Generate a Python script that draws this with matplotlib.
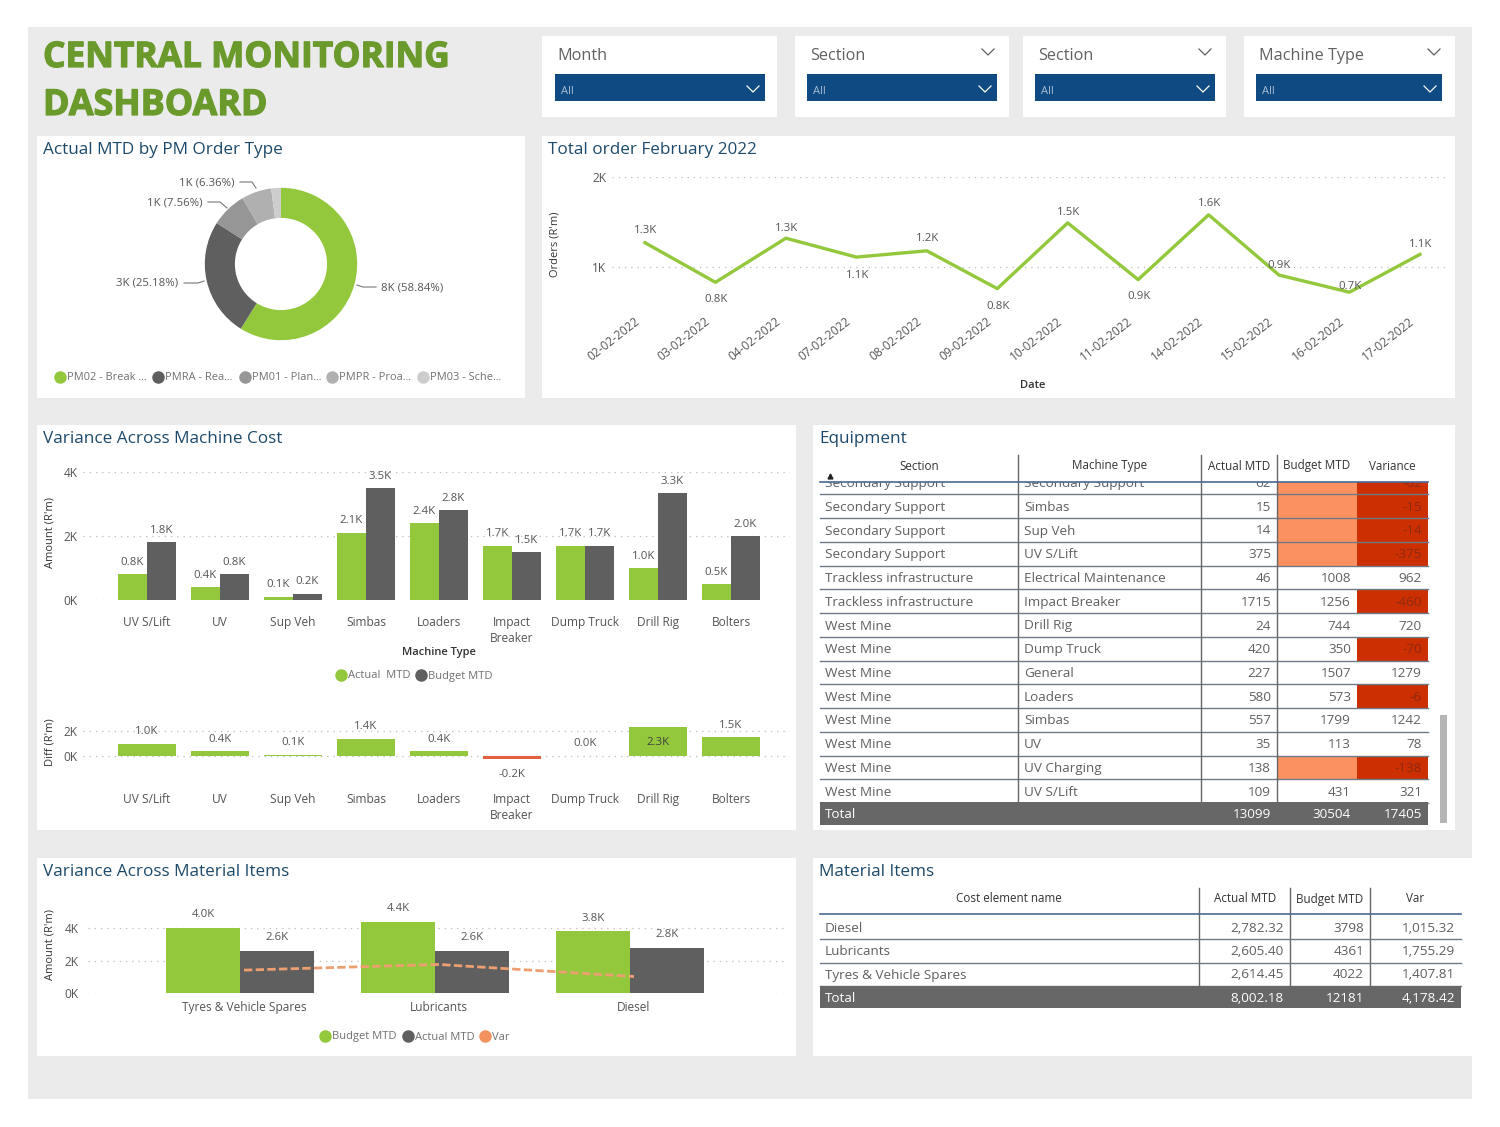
import matplotlib
matplotlib.use("Agg")
import matplotlib.pyplot as plt
from matplotlib.patches import Rectangle
from matplotlib.transforms import ScaledTranslation
import matplotlib.patheffects as pe
import numpy as np

plt.rcParams['font.family'] = ['Open Sans', 'DejaVu Sans']

W, H = 1500, 1127
GREEN = '#93C83C'
DARK = '#5F5F5F'
NAVY = '#1D4A6B'
TXT = '#555555'
ORANGE = '#F2935F'
BODY = 9.7

# ---------- data ----------
pm_labels = ['PM02 - Break ...', 'PMRA - Rea...', 'PM01 - Plan...', 'PMPR - Proa...', 'PM03 - Sche...']
pm_values = [58.84, 25.18, 7.56, 6.36, 2.06]
pm_colors = [GREEN, '#5F5F5F', '#969696', '#B0B0B0', '#CDCDCD']

order_dates = ['02-02-2022', '03-02-2022', '04-02-2022', '07-02-2022', '08-02-2022', '09-02-2022',
               '10-02-2022', '11-02-2022', '14-02-2022', '15-02-2022', '16-02-2022', '17-02-2022']
order_values = [1.27, 0.83, 1.32, 1.11, 1.18, 0.76, 1.49, 0.86, 1.58, 0.91, 0.72, 1.14]

machines = ['UV S/Lift', 'UV', 'Sup Veh', 'Simbas', 'Loaders', 'Impact\nBreaker', 'Dump Truck', 'Drill Rig', 'Bolters']
machine_actual = [0.8, 0.4, 0.1, 2.1, 2.4, 1.7, 1.7, 1.0, 0.5]
machine_budget = [1.8, 0.8, 0.2, 3.5, 2.8, 1.5, 1.7, 3.34, 2.0]
machine_diff = [1.0, 0.4, 0.1, 1.4, 0.4, -0.2, 0.04, 2.3, 1.5]

materials = ['Tyres & Vehicle Spares', 'Lubricants', 'Diesel']
material_budget = [4.022, 4.361, 3.798]
material_actual = [2.614, 2.605, 2.782]
material_var = [1.408, 1.755, 1.015]

equip_header = ['Section', 'Machine Type', 'Actual MTD', 'Budget MTD', 'Variance']
equip_section = ['Secondary Support'] * 4 + ['Trackless infrastructure'] * 2 + ['West Mine'] * 8
equip_machine = ['Secondary Support', 'Simbas', 'Sup Veh', 'UV S/Lift', 'Electrical Maintenance', 'Impact Breaker',
                 'Drill Rig', 'Dump Truck', 'General', 'Loaders', 'Simbas', 'UV', 'UV Charging', 'UV S/Lift']
equip_actual = ['62', '15', '14', '375', '46', '1715', '24', '420', '227', '580', '557', '35', '138', '109']
equip_budget = ['', '', '', '', '1008', '1256', '744', '350', '1507', '573', '1799', '113', '', '431']
equip_var = ['-62', '-15', '-14', '-375', '962', '-460', '720', '-70', '1279', '-6', '1242', '78', '-138', '321']
equip_total = ['Total', '', '13099', '30504', '17405']

mat_header = ['Cost element name', 'Actual MTD', 'Budget MTD', 'Var']
mat_rows = ['Diesel', 'Lubricants', 'Tyres & Vehicle Spares']
mat_actual = ['2,782.32', '2,605.40', '2,614.45']
mat_budget = ['3798', '4361', '4022']
mat_var = ['1,015.32', '1,755.29', '1,407.81']
mat_total = ['Total', '8,002.18', '12181', '4,178.42']

slicers = ['Month', 'Section', 'Section', 'Machine Type']

# ---------- canvas ----------
fig = plt.figure(figsize=(15, 11.27), dpi=100, facecolor='white')
bg = fig.add_axes([0, 0, 1, 1], zorder=0)
bg.set_xlim(0, W)
bg.set_ylim(H, 0)
bg.axis('off')


def rect(x0, y0, x1, y1, color, z=1, **kw):
    p = Rectangle((x0, y0), x1 - x0, y1 - y0, facecolor=color, edgecolor='none', zorder=z, **kw)
    bg.add_patch(p)
    return p


def px_axes(x0, y0, x1, y1):
    a = fig.add_axes([x0 / W, 1 - y1 / H, (x1 - x0) / W, (y1 - y0) / H], zorder=2)
    a.patch.set_alpha(0)
    for s in a.spines.values():
        s.set_visible(False)
    a.tick_params(length=0, colors=TXT, labelsize=8.6)
    return a


def t(x, y, s, size=8.6, color=TXT, ha='left', va='center', **kw):
    return bg.text(x, y + 1, s, fontsize=size, color=color, ha=ha, va=va, zorder=5, **kw)


def shift_labels(labels, dx, dy):
    off = ScaledTranslation(dx / 100, -dy / 100, fig.dpi_scale_trans)
    for lab in labels:
        lab.set_transform(lab.get_transform() + off)


rect(28, 27, 1472, 1099, '#EBEBEB')
for box in [(37, 136, 525, 398), (542, 136, 1455, 398), (37, 425, 796, 830),
            (813, 425, 1455, 830), (37, 858, 796, 1056), (813, 858, 1472, 1056)]:
    rect(*box, 'white', z=2)

stroke = [pe.withStroke(linewidth=0.9, foreground='#6B9A2C')]
t(43, 57, 'CENTRAL MONITORING', size=25.4, color='#6B9A2C', weight='bold', path_effects=stroke)
t(43, 105, 'DASHBOARD', size=25.8, color='#6B9A2C', weight='bold', path_effects=stroke)

panel_titles = [(43, 149, 'Actual MTD by PM Order Type'), (548, 149, 'Total order February 2022'),
                (43, 438, 'Variance Across Machine Cost'), (819, 438, 'Equipment'),
                (43, 871, 'Variance Across Material Items'), (819, 871, 'Material Items')]
for x, y, s in panel_titles:
    t(x, y, s, size=12.3, color=NAVY)

# ---------- slicers ----------
slicer_boxes = [(542, 777, 555, 765), (795, 1009, 807, 997), (1023, 1226, 1035, 1215), (1244, 1455, 1256, 1442)]
for i, (name, (a, b, c, d)) in enumerate(zip(slicers, slicer_boxes)):
    rect(a, 36, b, 117, 'white', z=2)
    t(c + 3 if i else 557, 55, name, size=11.7, color='#606060')
    rect(c, 74, d, 101, '#0F4A82', z=3)
    t(c + 6, 90, 'All', size=8, color='#A9BDD2')
    bg.plot([d - 18, d - 12, d - 6], [86, 92, 86], color='white', lw=0.9, zorder=4)
    if i:
        bg.plot([b - 27, b - 21, b - 15], [49, 55, 49], color='#606060', lw=0.9, zorder=4)

# ---------- donut ----------
ax = px_axes(201, 184, 361, 344)
ax.pie(pm_values, colors=pm_colors, startangle=90, counterclock=False, radius=1.0,
       wedgeprops=dict(width=0.395, linewidth=0))
ax.set_xlim(-1.05, 1.05)
ax.set_ylim(-1.05, 1.05)
donut_labels = [(381, 287, '8K (58.84%)', [(357, 285), (363, 287), (376, 287)]),
                (116, 282, '3K (25.18%)', [(184, 283), (198, 283), (204, 281)]),
                (147, 202, '1K (7.56%)', [(208, 202), (220, 202), (227, 208)]),
                (179, 182, '1K (6.36%)', [(240, 182), (252, 182), (256, 188)])]
for x, y, s, pts in donut_labels:
    t(x, y, s, size=8.2)
    bg.plot(*zip(*pts), color='#777777', lw=0.8, zorder=4)

legend_x = [60, 158, 245, 332, 423]
for x, s, c in zip(legend_x, pm_labels, pm_colors):
    bg.plot([x], [377], 'o', ms=8, color=c, zorder=4)
    t(x + 7, 377, s, size=7.9, color='#707070')

# ---------- orders line ----------
ax = px_axes(612, 177, 1447, 300)
xs = np.arange(len(order_dates))
ax.plot(xs, order_values, color=GREEN, lw=2.4, solid_joinstyle='round')
ax.set_xlim((612 - 645) / 70.45, (1447 - 645) / 70.45)
ax.set_ylim((357 - 300) / 90, 2)
ax.set_yticks([1, 2], ['1K', '2K'])
ax.grid(axis='y', ls=(0, (1, 4)), color='#BBBBBB', lw=0.9)
ax.set_axisbelow(True)
ax.set_xticks(xs, order_dates, rotation=38, ha='right', rotation_mode='anchor')
ax.tick_params(axis='x', pad=10.5)
ax.tick_params(axis='y', pad=4)
shift_labels(ax.get_xticklabels(), -11, 0)
order_offsets = [(0, 14), (0, -15), (0, 12), (0, -16), (0, 14), (0, -16),
                 (0, 12), (0, -15), (0, 13), (-1, 12), (0, 8), (0, 12)]
for x, v, (dx, dy) in zip(xs, order_values, order_offsets):
    ax.annotate(f'{v:.1f}K', (x, v), xytext=((dx + 1) * .72, (dy - 2) * .72), textcoords='offset points',
                ha='center', va='center', fontsize=8.2, color=TXT)
t(555, 243, "Orders (R'm)", size=8, color='#333333', rotation=90, ha='center')
t(1033, 384, 'Date', size=8, color='#333333', ha='center', weight='semibold')

# ---------- machine cost ----------
ax = px_axes(83, 472, 790, 600)
xs = np.arange(len(machines))
bw = 29 / 73
ax.bar(xs - bw / 2, machine_actual, bw, color=GREEN)
ax.bar(xs + bw / 2, machine_budget, bw, color=DARK)
ax.set_xlim((83 - 147) / 73, (790 - 147) / 73)
ax.set_ylim(0, 4)
ax.set_yticks([0, 2, 4], ['0K', '2K', '4K'])
ax.grid(axis='y', ls=(0, (1, 4)), color='#BBBBBB', lw=0.9)
ax.set_axisbelow(True)
ax.set_xticks(xs, machines, linespacing=1.3, va='top')
ax.tick_params(axis='x', pad=11.5)
ax.tick_params(axis='y', pad=4)
for x, a, b in zip(xs, machine_actual, machine_budget):
    ax.annotate(f'{a:.1f}K', (x - bw / 2, a), xytext=(0, 8.5), textcoords='offset points', ha='center',
                va='center', fontsize=8.2, color=TXT, annotation_clip=False)
    ax.annotate(f'{b:.1f}K', (x + bw / 2, b), xytext=(0, 8.5), textcoords='offset points', ha='center',
                va='center', fontsize=8.2, color=TXT, annotation_clip=False)
t(50, 531, "Amount (R'm)", size=8, color='#333333', rotation=90, ha='center')
t(439, 651, 'Machine Type', size=8, color='#333333', ha='center', weight='semibold')
bg.plot([341], [675], 'o', ms=8, color=GREEN, zorder=4)
t(348, 675, 'Actual  MTD', size=8, color='#707070')
bg.plot([421], [675], 'o', ms=8, color=DARK, zorder=4)
t(428, 675, 'Budget MTD', size=8, color='#707070')

# ---------- diff ----------
ax = px_axes(83, 722, 790, 770)
bw = 58 / 73
diff_colors = [GREEN if v >= 0 else '#E2603C' for v in machine_diff]
ax.bar(xs, machine_diff, bw, color=diff_colors, zorder=3)
ax.set_xlim((83 - 147) / 73, (790 - 147) / 73)
ax.set_ylim(-14 / 12.5, 34 / 12.5)
ax.set_yticks([0, 2], ['0K', '2K'])
ax.grid(axis='y', ls=(0, (1, 4)), color='#BBBBBB', lw=0.9)
ax.set_axisbelow(True)
ax.set_xticks(xs, machines, linespacing=1.3, va='top')
ax.tick_params(axis='x', pad=16.5)
ax.tick_params(axis='y', pad=4)
for x, v in zip(xs, machine_diff):
    inside = v > 2
    off = -11 if inside else (8.5 if v >= 0 else -11.5)
    ax.annotate(f'{v:.1f}K', (x, v), xytext=(0, off), textcoords='offset points', ha='center', va='center',
                fontsize=8.2, color='#3F3F3F' if inside else TXT, annotation_clip=False)
t(50, 741, "Diff (R'm)", size=8, color='#333333', rotation=90, ha='center')

# ---------- material ----------
ax = px_axes(88, 915, 787, 993)
xs = np.arange(len(materials))
bw = 74 / 195
ax.bar(xs - bw / 2, material_budget, bw, color=GREEN)
ax.bar(xs + bw / 2, material_actual, bw, color=DARK)
ax.plot(xs + 4 / 195, material_var, color='#EE9F72', lw=2, ls=(0, (3, 1.2)), zorder=4)
ax.set_xlim((88 - 240) / 195, (787 - 240) / 195)
ax.set_ylim(0, 78 / 16.25)
ax.set_yticks([0, 2, 4], ['0K', '2K', '4K'])
ax.grid(axis='y', ls=(0, (1, 4)), color='#BBBBBB', lw=0.9)
ax.set_axisbelow(True)
ax.set_xticks(xs, materials)
ax.tick_params(axis='x', pad=6)
ax.tick_params(axis='y', pad=7)
shift_labels(ax.get_xticklabels(), 4, 0)
for x, a, b in zip(xs, material_budget, material_actual):
    ax.annotate(f'{a:.1f}K', (x - bw / 2, a), xytext=(0, 9.5), textcoords='offset points', ha='center',
                va='center', fontsize=8.2, color=TXT, annotation_clip=False)
    ax.annotate(f'{b:.1f}K', (x + bw / 2, b), xytext=(0, 9.5), textcoords='offset points', ha='center',
                va='center', fontsize=8.2, color=TXT, annotation_clip=False)
t(50, 944, "Amount (R'm)", size=8, color='#333333', rotation=90, ha='center')
for x, s, c in [(325, 'Budget MTD', GREEN), (408, 'Actual MTD', DARK), (485, 'Var', ORANGE)]:
    bg.plot([x], [1036], 'o', ms=8, color=c, zorder=4)
    t(x + 7, 1036, s, size=8, color='#707070')

# ---------- equipment table ----------
cols = [820, 1018, 1201, 1277, 1357, 1428]
row_h = 23.75
first_y = 482.5
clip = Rectangle((815, 482), 630, 343, transform=bg.transData, facecolor='none', edgecolor='none')
bg.add_patch(clip)
for i in range(len(equip_section)):
    yc = first_y + i * row_h
    top, bot = max(yc - row_h / 2, 482), yc + row_h / 2
    if equip_budget[i] == '':
        rect(cols[3], top, cols[4], bot, '#FB9160', z=3)
    if equip_var[i].startswith('-'):
        rect(cols[4], top, cols[5], bot, '#CC2F02', z=3)
    bg.plot([cols[0], cols[5]], [bot, bot], color='#6E7A85', lw=1, zorder=4)
    for x, s in [(cols[0] + 5, equip_section[i]), (cols[1] + 6, equip_machine[i])]:
        t(x, yc, s, size=BODY, color='#606060', clip_on=True).set_clip_path(clip)
    for j, s in [(2, equip_actual[i]), (3, equip_budget[i]), (4, equip_var[i])]:
        col = '#8E2A10' if (j == 4 and s.startswith('-')) else '#606060'
        t(cols[j + 1] - 6, yc, s, size=BODY, color=col, ha='right', clip_on=True).set_clip_path(clip)
for x in cols[1:4]:
    bg.plot([x, x], [455, 802], color='#666666', lw=1, zorder=4)
bg.plot([cols[0], cols[5]], [482, 482], color='#4A6A95', lw=1.2, zorder=6)
hc = [(cols[0] + cols[1]) / 2, (cols[1] + cols[2]) / 2 + 0.5, (cols[2] + cols[3]) / 2, (cols[3] + cols[4]) / 2, (cols[4] + cols[5]) / 2]
for x, s in zip(hc, equip_header):
    t(x, 465, s, size=8.4, color='#333333', ha='center')
bg.plot([830], [476], '^', ms=3.5, color='#222222', zorder=6)
rect(cols[0], 802, cols[5], 825, '#676767', z=5)
t(cols[0] + 5, 813.5, equip_total[0], size=BODY, color='white').set_zorder(6)
for j in (2, 3, 4):
    t(cols[j + 1] - 6, 813.5, equip_total[j], size=BODY, color='white', ha='right').set_zorder(6)
rect(1440, 715, 1447, 823, '#B5B5B5', z=4)

# ---------- material table ----------
mcols = [820, 1199, 1290, 1370, 1461]
mhc = [1009, 1245, 1330, 1415]
for x, s in zip(mhc, mat_header):
    t(x, 898, s, size=8.4, color='#333333', ha='center')
for x in mcols[1:4]:
    bg.plot([x, x], [888, 986], color='#666666', lw=1, zorder=4)
bg.plot([mcols[0], mcols[4]], [914, 914], color='#4A6A95', lw=1.2, zorder=4)
for i, name in enumerate(mat_rows):
    yc = 927 + i * 23.5
    bg.plot([mcols[0], mcols[4]], [yc + 12, yc + 12], color='#6E7A85', lw=1, zorder=4)
    t(mcols[0] + 5, yc, name, size=BODY, color='#606060')
    for j, s in enumerate([mat_actual[i], mat_budget[i], mat_var[i]]):
        t(mcols[j + 2] - 6, yc, s, size=BODY, color='#606060', ha='right')
rect(mcols[0], 986, mcols[4], 1008, '#676767', z=5)
t(mcols[0] + 5, 997.5, mat_total[0], size=BODY, color='white').set_zorder(6)
for j in range(3):
    t(mcols[j + 2] - 6, 997.5, mat_total[j + 1], size=BODY, color='white', ha='right').set_zorder(6)

fig.savefig('out.png', dpi=100, facecolor='white')
